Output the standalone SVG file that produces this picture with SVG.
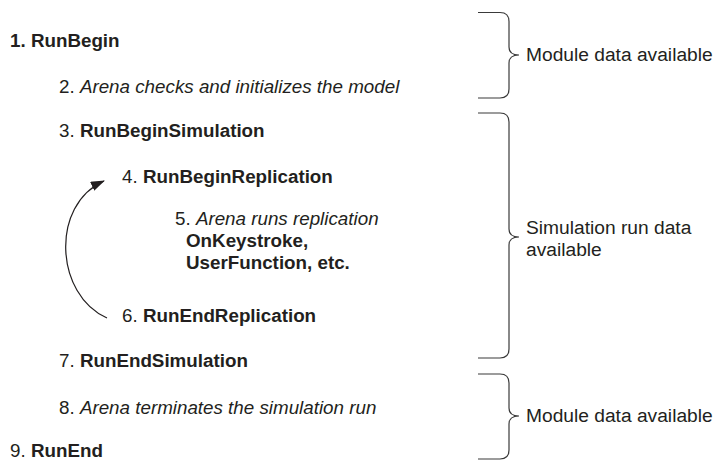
<svg xmlns="http://www.w3.org/2000/svg" width="715" height="462" viewBox="0 0 715 462">
<defs>
<style>
text{font-family:"Liberation Sans",Arial,sans-serif;font-size:18.8px;fill:#231f20}
.r{font-size:19.2px}
.b{font-weight:bold}
.i{font-style:italic}
.brace{fill:none;stroke:#3a3a3a;stroke-width:1.2}
.conn{fill:none;stroke:#231f20;stroke-width:1.2}
</style>
<marker id="ah" viewBox="0 0 14 10" refX="13" refY="5" markerWidth="14" markerHeight="10" markerUnits="userSpaceOnUse" orient="auto">
<path d="M0,0 L14,5 L0,10 Z" fill="#231f20"/>
</marker>
</defs>
<rect width="715" height="462" fill="#fff"/>
<g id="step1"><text x="10" y="47" class="b">1. RunBegin</text></g>
<g id="step2"><text x="59" y="93">2. <tspan class="i">Arena checks and initializes the model</tspan></text></g>
<g id="step3"><text x="59" y="137">3. <tspan class="b">RunBeginSimulation</tspan></text></g>
<g id="step4"><text x="122" y="183">4. <tspan class="b">RunBeginReplication</tspan></text></g>
<g id="step5">
<text x="175" y="225">5. <tspan class="i">Arena runs replication</tspan></text>
<text x="186" y="247" class="b">OnKeystroke,</text>
<text x="186" y="269" class="b">UserFunction, etc.</text>
</g>
<g id="step6"><text x="122" y="322">6. <tspan class="b">RunEndReplication</tspan></text></g>
<g id="step7"><text x="59" y="367">7. <tspan class="b">RunEndSimulation</tspan></text></g>
<g id="step8"><text x="59" y="414">8. <tspan class="i">Arena terminates the simulation run</tspan></text></g>
<g id="step9"><text x="10" y="457">9. <tspan class="b">RunEnd</tspan></text></g>
<g id="brace1">
<path class="brace" d="M478,12.5 H500 Q509,12.5 509,21.5 V47 Q509,55 519,55 Q509,55 509,63 V89 Q509,98 500,98 H478"/>
<text x="526" y="61" class="r">Module data available</text>
</g>
<g id="brace2">
<path class="brace" d="M478,113 H500 Q509,113 509,122 V229 Q509,237 519,237 Q509,237 509,245 V349 Q509,358 500,358 H478"/>
<text x="526" y="234" class="r">Simulation run data</text>
<text x="526" y="256" class="r">available</text>
</g>
<g id="brace3">
<path class="brace" d="M478,374 H500 Q509,374 509,383 V408 Q509,416 519,416 Q509,416 509,424 V450 Q509,459 500,459 H478"/>
<text x="526" y="422" class="r">Module data available</text>
</g>
<g id="connectors">
<path class="conn" d="M107,318 C55,295 50,205 104,181" marker-end="url(#ah)"/>
</g>
</svg>
